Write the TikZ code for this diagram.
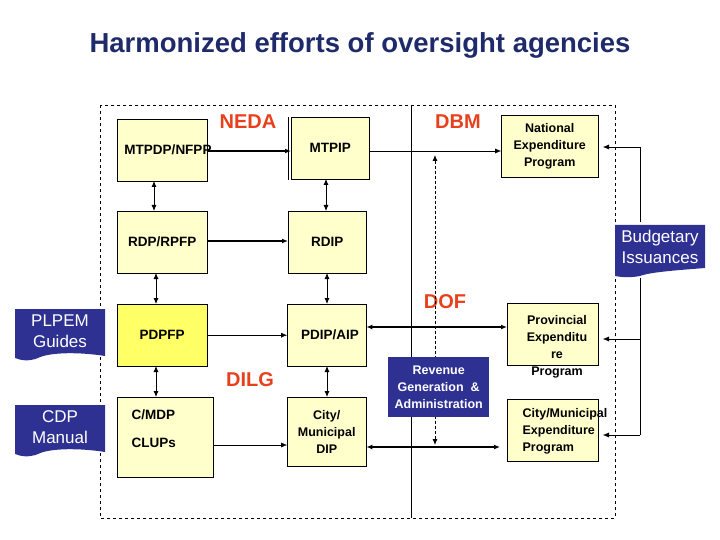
\documentclass[tikz,border=0pt]{standalone}
\usepackage{fontspec}
\setmainfont{Liberation Sans}
\usetikzlibrary{arrows.meta}

\definecolor{boxyellow}{HTML}{FFFFCC}
\definecolor{brightyellow}{HTML}{FFFF66}
\definecolor{navy}{HTML}{2E3192}
\definecolor{agency}{HTML}{E8401C}
\definecolor{titleblue}{HTML}{1F2A6B}

\tikzset{
  plan/.style={draw, fill=boxyellow, inner sep=0pt, anchor=north west,
    font=\bfseries\fontsize{13.5}{17}\selectfont, align=center},
  guide/.style={fill=navy, text=white, inner sep=0pt, anchor=north west,
    font=\fontsize{19}{23}\selectfont, align=center},
  agencylbl/.style={text=agency, font=\bfseries\fontsize{20}{22}\selectfont},
  link/.style={-{Latex[length=6pt,width=5pt]}},
  both/.style={{Latex[length=6pt,width=5pt]}-{Latex[length=6pt,width=5pt]}},
}

\begin{document}
\begin{tikzpicture}[x=1pt,y=-1pt]
\useasboundingbox (0,0) rectangle (720,540);

% title
\node[text=titleblue, font=\bfseries\fontsize{27.5}{32}\selectfont] (title) at (360,45)
  {Harmonized efforts of oversight agencies};

% frame
\draw[dashed] (100,105) rectangle (615,518);
\draw (411,105) -- (411,518);

% agencies
\node[agencylbl] (neda) at (248,122) {NEDA};
\node[agencylbl] (dbm) at (458,122) {DBM};
\node[agencylbl] (dof) at (445,302) {DOF};
\node[agencylbl] (dilg) at (250,380) {DILG};

% plans
\node[plan, minimum width=90, minimum height=62, anchor=west] (mtpdp) at (117,150) {};
\node[font=\bfseries\fontsize{13.5}{17}\selectfont] (mtpdptxt) at (168,150) {MTPDP/NFPP};
\node[plan, minimum width=78, minimum height=62] (mtpip) at (291,117) {MTPIP};
\draw (288,117) -- (288,180);
\node[plan, minimum width=97, minimum height=62, font=\bfseries\fontsize{12.5}{17}\selectfont] (nep) at (501,115)
  {National\\Expenditure\\Program};
\node[plan, minimum width=90, minimum height=62] (rdp) at (117,211) {RDP/RPFP};
\node[plan, minimum width=78, minimum height=62] (rdip) at (288,211) {RDIP};
\node[plan, fill=brightyellow, minimum width=90, minimum height=62] (pdpfp) at (117,304) {PDPFP};
\node[plan, minimum width=79, minimum height=62] (pdip) at (287,304) {};
\node[font=\bfseries\fontsize{13.5}{17}\selectfont] (pdiptxt) at (330,335) {PDIP/AIP};
\node[plan, minimum width=96, minimum height=80] (cmdp) at (117,397) {};
\node[anchor=west, font=\bfseries\fontsize{13.5}{17}\selectfont] (cmdptxt) at (128,415) {C/MDP};
\node[anchor=west, font=\bfseries\fontsize{13.5}{17}\selectfont] (cluptxt) at (128,443) {CLUPs};
\node[plan, minimum width=79, minimum height=69, font=\bfseries\fontsize{12.5}{17}\selectfont] (citydip) at (287,397) {City/\\Municipal\\DIP};
\node[plan, minimum width=91, minimum height=62] (provexp) at (507,303) {};
\node[font=\bfseries\fontsize{12.5}{17}\selectfont, align=center] (provtxt) at (557,347)
  {Provincial\\Expenditu\\re\\Program};
\node[plan, minimum width=91, minimum height=62] (cityexp) at (507,399) {};
\node[font=\bfseries\fontsize{12.5}{17}\selectfont, align=left] (citytxt) at (565,431)
  {City/Municipal\\Expenditure\\Program};

% guides
\fill[navy] (15,309) -- (105,309) -- (105,356) .. controls (80,352) and (50,352) .. (38,358)
  .. controls (28,362) and (20,360) .. (15,358) -- cycle;
\node[text=white, font=\fontsize{17}{21}\selectfont, align=center] (plpem) at (60,331) {PLPEM\\Guides};
\fill[navy] (15,405) -- (105,405) -- (105,452) .. controls (80,448) and (50,448) .. (38,454)
  .. controls (28,458) and (20,456) .. (15,454) -- cycle;
\node[text=white, font=\fontsize{17}{21}\selectfont, align=center] (cdp) at (60,427) {CDP\\Manual};
\fill[navy] (615,225) -- (705,225) -- (705,268) .. controls (680,270) and (650,272) .. (640,276)
  .. controls (630,278) and (620,277) .. (615,276) -- cycle;
\node[text=white, font=\fontsize{17}{21}\selectfont, align=center] (budget) at (660,247) {Budgetary\\Issuances};

% horizontal flows
\draw[link, very thick] (mtpdp.east |- 0,151) -- (mtpip.west |- 0,151);
\draw[link] (mtpip.east |- 0,151) -- (nep.west |- 0,151);
\draw[link, very thick] (rdp.east |- 0,241) -- (rdip.west |- 0,241);
\draw[link] (pdpfp) -- (pdip);
\draw[link] (cmdp.east |- 0,445) -- (citydip.west |- 0,445);
\draw[both, very thick] (pdip.east |- 0,327) -- (provexp.west |- 0,327);
\draw[both, very thick] (citydip.east |- 0,447) -- (500,447);

% vertical flows
\draw[both, thick] (154,181) -- (154,211);
\draw[both, thick] (156,273) -- (156,304);
\draw[both, thick] (156,366) -- (156,397);
\draw[both, thick] (326,179) -- (326,211);
\draw[both, thick] (327,273) -- (327,304);
\draw[both, thick] (327,366) -- (327,397);
\draw[both, thick, densely dashed] (435,155) -- (435,445);

\node[guide, minimum width=101, minimum height=60, font=\bfseries\fontsize{12.5}{17}\selectfont] (revenue) at (388,357)
  {Revenue\\Generation \ \&\\Administration};

% budgetary issuances
\draw (640,222) -- (640,147);
\draw[link] (640,147) -- (603,147);
\draw (640,278) -- (640,435);
\draw[link] (640,339) -- (603,339);
\draw[link] (640,435) -- (603,435);
\end{tikzpicture}
\end{document}
